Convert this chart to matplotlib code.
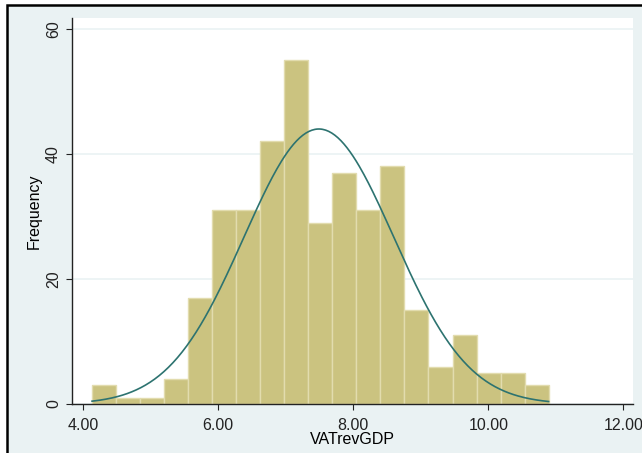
import numpy as np
import matplotlib
matplotlib.use("Agg")
import matplotlib.pyplot as plt
from matplotlib.patches import Rectangle

plt.rcParams['font.family'] = ['Liberation Sans', 'DejaVu Sans']

# --- Data ---
bin_start = 4.13
bin_width = 0.356
counts = [3, 1, 1, 4, 17, 31, 31, 42, 55, 29, 37, 31, 38, 15, 6, 11, 5, 5, 3]

# fitted normal overlay
norm_mean = 7.49
norm_sd = 1.11
norm_peak = 44.0

x_ticks = [4, 6, 8, 10, 12]
x_ticklabels = ["4.00", "6.00", "8.00", "10.00", "12.00"]
y_ticks = [0, 20, 40, 60]

# colours (Stata s2color-like)
bg = "#eaf2f3"
bar_color = "#cbc380"
bar_edge = "#e2dcae"
line_color = "#2d7370"

edges = bin_start + bin_width * np.arange(len(counts) + 1)

fig = plt.figure(figsize=(6.42, 4.53), dpi=100)
fig.patch.set_facecolor("white")
fig.patches.append(Rectangle((7 / 642, -0.05), 1.1, (453 - 5) / 453 + 0.05,
                             transform=fig.transFigure, facecolor=bg,
                             edgecolor="black", linewidth=1.8, zorder=-10))

ax = fig.add_axes([72 / 642, 49 / 453, (633 - 72) / 642, (404 - 18) / 453])
ax.set_facecolor("white")

ax.bar(edges[:-1], counts, width=bin_width, align="edge",
       color=bar_color, edgecolor=bar_edge, linewidth=1.0, zorder=2)

xs = np.linspace(edges[0], edges[-1], 300)
ys = norm_peak * np.exp(-0.5 * ((xs - norm_mean) / norm_sd) ** 2)
ax.plot(xs, ys, color=line_color, linewidth=1.2, zorder=3)

ax.set_xlim(3.833, 12.144)
ax.set_ylim(0, 61.76)
ax.set_xticks(x_ticks)
ax.set_xticklabels(x_ticklabels)
ax.set_yticks(y_ticks)
ax.set_yticklabels([str(t) for t in y_ticks], rotation=90, va="center")

ax.grid(True, axis="y", color=bg, linewidth=1.2)
ax.set_axisbelow(True)

for s in ["top", "right"]:
    ax.spines[s].set_visible(False)
for s in ["left", "bottom"]:
    ax.spines[s].set_color("#222222")
    ax.spines[s].set_linewidth(1.0)

ax.tick_params(direction="out", length=4, width=0.8, colors="#222222",
               labelsize=11.5, pad=4)
ax.tick_params(axis="x", pad=6)

ax.set_xlabel("VATrevGDP", fontsize=11.5, labelpad=-1)
ax.set_ylabel("Frequency", fontsize=11.5, labelpad=3)

plt.savefig("out.png", dpi=100)
